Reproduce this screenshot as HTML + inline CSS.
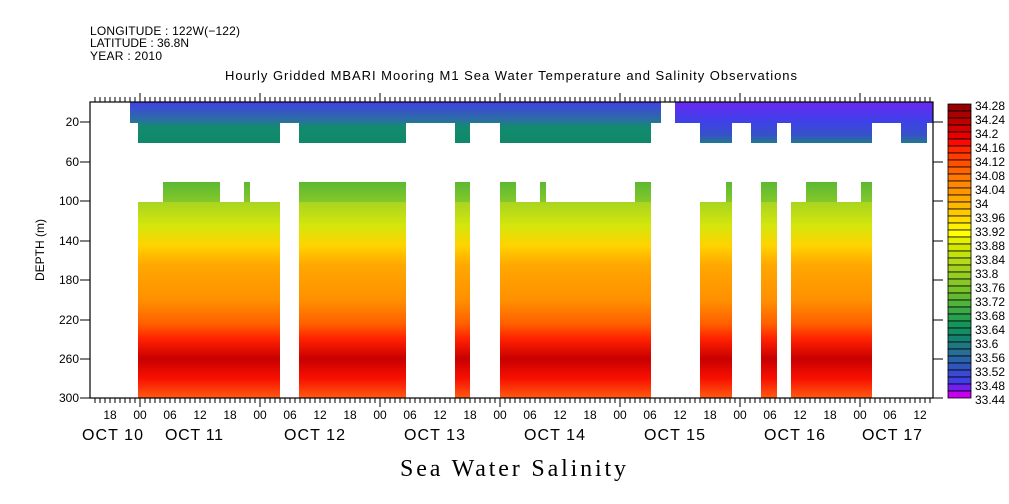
<!DOCTYPE html><html><head><style>body{margin:0;background:#fff}svg{display:block}text{font-family:"Liberation Sans",sans-serif}</style></head><body>
<svg width="1009" height="504" xmlns="http://www.w3.org/2000/svg">
<defs>
<clipPath id="cx"><rect x="89" y="80" width="845" height="340"/></clipPath>
<linearGradient id="deep" x1="0" y1="202" x2="0" y2="398" gradientUnits="userSpaceOnUse">
<stop offset="0" stop-color="#a8d420"/><stop offset="0.12" stop-color="#d4e60c"/><stop offset="0.22" stop-color="#ffd400"/><stop offset="0.32" stop-color="#ffa800"/><stop offset="0.5" stop-color="#ff9000"/><stop offset="0.62" stop-color="#ff6000"/><stop offset="0.7" stop-color="#ff2000"/><stop offset="0.8" stop-color="#c80000"/><stop offset="0.9" stop-color="#f81000"/><stop offset="1" stop-color="#ff5a10"/></linearGradient>
<linearGradient id="mid" x1="0" y1="182" x2="0" y2="202" gradientUnits="userSpaceOnUse"><stop offset="0" stop-color="#5cb834"/><stop offset="1" stop-color="#84c828"/></linearGradient>
<linearGradient id="topL" x1="0" y1="102" x2="0" y2="143" gradientUnits="userSpaceOnUse"><stop offset="0" stop-color="#4040e6"/><stop offset="0.45" stop-color="#2a70a0"/><stop offset="0.6" stop-color="#128a70"/><stop offset="1" stop-color="#108868"/></linearGradient>
<linearGradient id="topR" x1="0" y1="102" x2="0" y2="143" gradientUnits="userSpaceOnUse"><stop offset="0" stop-color="#6a28f0"/><stop offset="0.45" stop-color="#4040ea"/><stop offset="0.8" stop-color="#3650c8"/><stop offset="1" stop-color="#207a90"/></linearGradient>
</defs>
<text x="90" y="35" font-size="12" textLength="150" lengthAdjust="spacing">LONGITUDE : 122W(−122)</text>
<text x="90" y="47" font-size="12" textLength="99" lengthAdjust="spacing">LATITUDE : 36.8N</text>
<text x="90" y="60" font-size="12" textLength="72" lengthAdjust="spacing">YEAR : 2010</text>
<text x="225" y="80" font-size="13" textLength="572" lengthAdjust="spacing">Hourly Gridded MBARI Mooring M1 Sea Water Temperature and Salinity Observations</text>
<rect x="130" y="102" width="531" height="21" fill="url(#topL)"/>
<rect x="675" y="102" width="258" height="21" fill="url(#topR)"/>
<g fill="url(#topL)"><rect x="138" y="122" width="142" height="21"/><rect x="299" y="122" width="107" height="21"/><rect x="455" y="122" width="15" height="21"/><rect x="500" y="122" width="151" height="21"/></g>
<g fill="url(#topR)"><rect x="700" y="122" width="32" height="21"/><rect x="751" y="122" width="26" height="21"/><rect x="791" y="122" width="81" height="21"/><rect x="901" y="122" width="26" height="21"/></g>
<g fill="url(#mid)"><rect x="163" y="182" width="57" height="21"/><rect x="244" y="182" width="6" height="21"/><rect x="299" y="182" width="107" height="21"/><rect x="455" y="182" width="15" height="21"/><rect x="500" y="182" width="16" height="21"/><rect x="540" y="182" width="6" height="21"/><rect x="635" y="182" width="16" height="21"/><rect x="726" y="182" width="6" height="21"/><rect x="761" y="182" width="16" height="21"/><rect x="806" y="182" width="31" height="21"/><rect x="861" y="182" width="11" height="21"/></g>
<g fill="url(#deep)"><rect x="138" y="202" width="142" height="196"/><rect x="299" y="202" width="107" height="196"/><rect x="455" y="202" width="15" height="196"/><rect x="500" y="202" width="151" height="196"/><rect x="700" y="202" width="32" height="196"/><rect x="761" y="202" width="16" height="196"/><rect x="791" y="202" width="81" height="196"/></g>
<rect x="90" y="102" width="843" height="296" fill="none" stroke="#000" stroke-width="1.2"/>
<path stroke="#000" stroke-width="1" d="M80 122H90M80 162H90M80 201H90M80 241H90M80 280H90M80 320H90M80 359H90M80 398H90M933 122H943M933 162H943M933 201H943M933 241H943M933 280H943M933 320H943M933 359H943M933 398H943"/>
<g stroke="#000" stroke-width="1" clip-path="url(#cx)">
<path d="M95 398v5M100 398v5M105 398v5M110 398v5M115 398v5M120 398v5M125 398v5M130 398v5M135 398v5M145 398v5M150 398v5M155 398v5M160 398v5M165 398v5M170 398v5M175 398v5M180 398v5M185 398v5M190 398v5M195 398v5M200 398v5M205 398v5M210 398v5M215 398v5M220 398v5M225 398v5M230 398v5M235 398v5M240 398v5M245 398v5M250 398v5M255 398v5" id="tk"/>
<use href="#tk" x="120"/><use href="#tk" x="240"/><use href="#tk" x="360"/><use href="#tk" x="480"/><use href="#tk" x="600"/><use href="#tk" x="720"/>
<use href="#tk" y="-301"/><use href="#tk" x="120" y="-301"/><use href="#tk" x="240" y="-301"/><use href="#tk" x="360" y="-301"/><use href="#tk" x="480" y="-301"/><use href="#tk" x="600" y="-301"/><use href="#tk" x="720" y="-301"/>
<path d="M140 398v9M260 398v9M380 398v9M500 398v9M620 398v9M740 398v9M860 398v9M140 102v-9M260 102v-9M380 102v-9M500 102v-9M620 102v-9M740 102v-9M860 102v-9"/>
</g>
<g font-size="12" text-anchor="end"><text x="79" y="126">20</text><text x="79" y="166">60</text><text x="79" y="205">100</text><text x="79" y="245">140</text><text x="79" y="284">180</text><text x="79" y="324">220</text><text x="79" y="363">260</text><text x="79" y="402">300</text></g>
<text transform="translate(44,250) rotate(-90)" font-size="12" text-anchor="middle">DEPTH (m)</text>
<g font-size="12" text-anchor="middle">
<text x="110" y="419">18</text><text x="140" y="419">00</text><text x="170" y="419">06</text><text x="200" y="419">12</text><text x="230" y="419">18</text><text x="260" y="419">00</text><text x="290" y="419">06</text><text x="320" y="419">12</text><text x="350" y="419">18</text><text x="380" y="419">00</text><text x="410" y="419">06</text><text x="440" y="419">12</text><text x="470" y="419">18</text><text x="500" y="419">00</text><text x="530" y="419">06</text><text x="560" y="419">12</text><text x="590" y="419">18</text><text x="620" y="419">00</text><text x="650" y="419">06</text><text x="680" y="419">12</text><text x="710" y="419">18</text><text x="740" y="419">00</text><text x="770" y="419">06</text><text x="800" y="419">12</text><text x="830" y="419">18</text><text x="860" y="419">00</text><text x="890" y="419">06</text><text x="920" y="419">12</text></g>
<g font-size="16"><text x="82" y="440" textLength="61" lengthAdjust="spacing">OCT 10</text><text x="165" y="440" textLength="58" lengthAdjust="spacing">OCT 11</text><text x="284" y="440" textLength="61" lengthAdjust="spacing">OCT 12</text><text x="404" y="440" textLength="61" lengthAdjust="spacing">OCT 13</text><text x="524" y="440" textLength="61" lengthAdjust="spacing">OCT 14</text><text x="644" y="440" textLength="61" lengthAdjust="spacing">OCT 15</text><text x="764" y="440" textLength="61" lengthAdjust="spacing">OCT 16</text><text x="862" y="440" textLength="60" lengthAdjust="spacing">OCT 17</text></g>
<text x="400" y="476" font-size="24" style="font-family:'Liberation Serif',serif" textLength="226" lengthAdjust="spacing">Sea Water Salinity</text>
<g stroke="#000" stroke-width="0.8">
<rect x="948" y="104" width="23" height="7" fill="#960000"/><rect x="948" y="111" width="23" height="7" fill="#aa0000"/><rect x="948" y="118" width="23" height="7" fill="#be0000"/><rect x="948" y="125" width="23" height="7" fill="#d20000"/><rect x="948" y="132" width="23" height="7" fill="#e60000"/><rect x="948" y="139" width="23" height="7" fill="#fa0a00"/><rect x="948" y="146" width="23" height="7" fill="#ff2800"/><rect x="948" y="153" width="23" height="7" fill="#ff3c00"/><rect x="948" y="160" width="23" height="7" fill="#ff5000"/><rect x="948" y="167" width="23" height="7" fill="#ff6400"/><rect x="948" y="174" width="23" height="7" fill="#ff7800"/><rect x="948" y="181" width="23" height="7" fill="#ff8800"/><rect x="948" y="188" width="23" height="7" fill="#ff9600"/><rect x="948" y="195" width="23" height="7" fill="#ffa800"/><rect x="948" y="202" width="23" height="7" fill="#ffb800"/><rect x="948" y="209" width="23" height="7" fill="#ffc800"/><rect x="948" y="216" width="23" height="7" fill="#ffdc00"/><rect x="948" y="223" width="23" height="7" fill="#fff000"/><rect x="948" y="230" width="23" height="7" fill="#ffff00"/><rect x="948" y="237" width="23" height="7" fill="#e6f000"/><rect x="948" y="244" width="23" height="7" fill="#d2e600"/><rect x="948" y="251" width="23" height="7" fill="#c3e10a"/><rect x="948" y="258" width="23" height="7" fill="#b4dc14"/><rect x="948" y="265" width="23" height="7" fill="#a5d21e"/><rect x="948" y="272" width="23" height="7" fill="#96cd23"/><rect x="948" y="279" width="23" height="7" fill="#87c828"/><rect x="948" y="286" width="23" height="7" fill="#78c328"/><rect x="948" y="293" width="23" height="7" fill="#64b932"/><rect x="948" y="300" width="23" height="7" fill="#50b43c"/><rect x="948" y="307" width="23" height="7" fill="#3caa46"/><rect x="948" y="314" width="23" height="7" fill="#28a050"/><rect x="948" y="321" width="23" height="7" fill="#14965a"/><rect x="948" y="328" width="23" height="7" fill="#148c64"/><rect x="948" y="335" width="23" height="7" fill="#148270"/><rect x="948" y="342" width="23" height="7" fill="#1e7882"/><rect x="948" y="349" width="23" height="7" fill="#286e96"/><rect x="948" y="356" width="23" height="7" fill="#2864aa"/><rect x="948" y="363" width="23" height="7" fill="#3056be"/><rect x="948" y="370" width="23" height="7" fill="#3a4ad2"/><rect x="948" y="377" width="23" height="7" fill="#4040e6"/><rect x="948" y="384" width="23" height="7" fill="#7020f0"/><rect x="948" y="391" width="23" height="7" fill="#c800f0"/>
</g>
<g font-size="12"><text x="975" y="110">34.28</text><text x="975" y="124">34.24</text><text x="975" y="138">34.2</text><text x="975" y="152">34.16</text><text x="975" y="166">34.12</text><text x="975" y="180">34.08</text><text x="975" y="194">34.04</text><text x="975" y="208">34</text><text x="975" y="222">33.96</text><text x="975" y="236">33.92</text><text x="975" y="250">33.88</text><text x="975" y="264">33.84</text><text x="975" y="278">33.8</text><text x="975" y="292">33.76</text><text x="975" y="306">33.72</text><text x="975" y="320">33.68</text><text x="975" y="334">33.64</text><text x="975" y="348">33.6</text><text x="975" y="362">33.56</text><text x="975" y="376">33.52</text><text x="975" y="390">33.48</text><text x="975" y="404">33.44</text></g>
</svg></body></html>
